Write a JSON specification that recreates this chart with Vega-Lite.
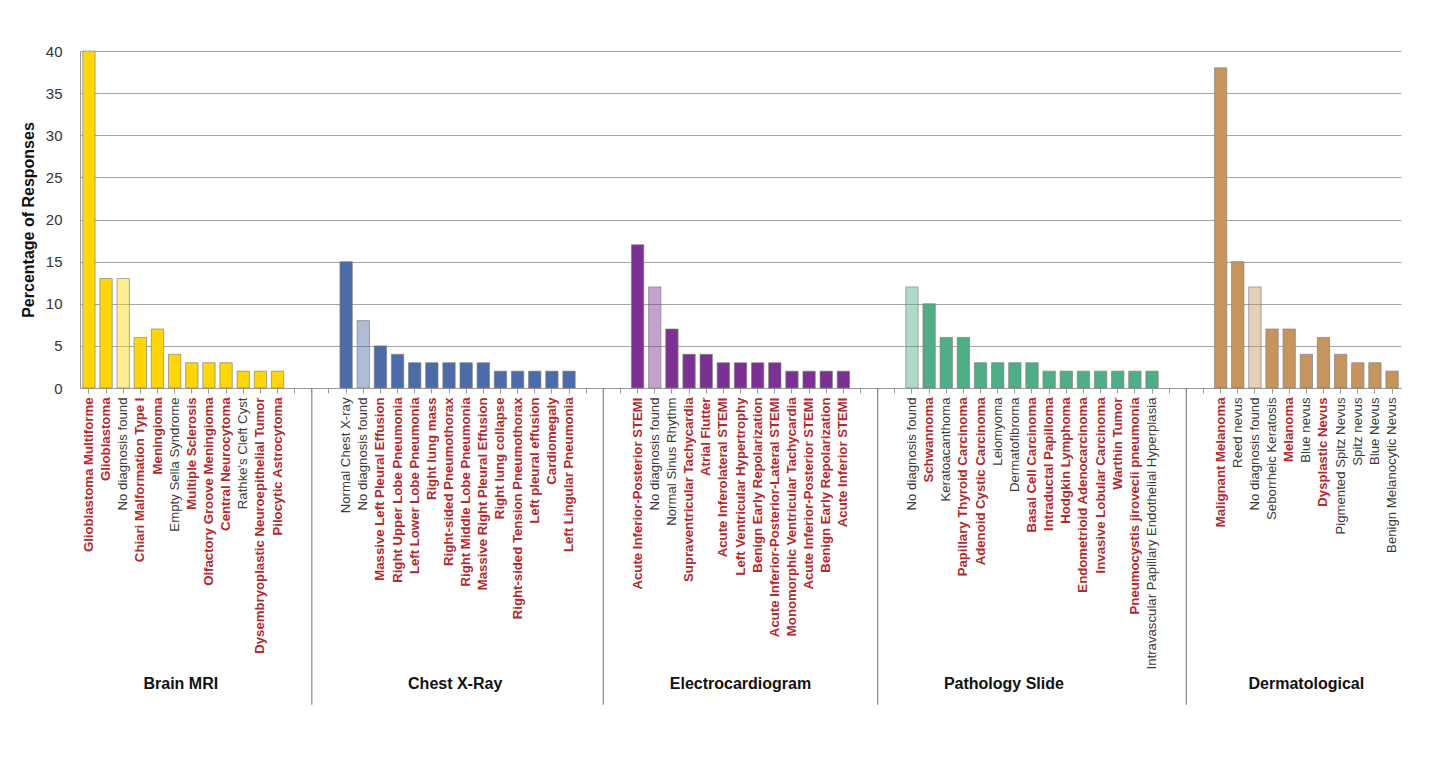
{
  "$schema": "https://vega.github.io/schema/vega-lite/v6.json",
  "padding": {"top": 44, "left": 20, "right": 5, "bottom": 5},
  "width": 1321,
  "height": 337,
  "data": {
    "values": [
      {"id": "B01", "group": "Brain MRI", "diagnosis": "Glioblastoma Multiforme", "correct": true, "pct": 40},
      {"id": "B02", "group": "Brain MRI", "diagnosis": "Glioblastoma", "correct": true, "pct": 13},
      {"id": "B03", "group": "Brain MRI", "diagnosis": "No diagnosis found", "correct": false, "pct": 13},
      {"id": "B04", "group": "Brain MRI", "diagnosis": "Chiari Malformation Type I", "correct": true, "pct": 6},
      {"id": "B05", "group": "Brain MRI", "diagnosis": "Meningioma", "correct": true, "pct": 7},
      {"id": "B06", "group": "Brain MRI", "diagnosis": "Empty Sella Syndrome", "correct": false, "pct": 4},
      {"id": "B07", "group": "Brain MRI", "diagnosis": "Multiple Sclerosis", "correct": true, "pct": 3},
      {"id": "B08", "group": "Brain MRI", "diagnosis": "Olfactory Groove Meningioma", "correct": true, "pct": 3},
      {"id": "B09", "group": "Brain MRI", "diagnosis": "Central Neurocytoma", "correct": true, "pct": 3},
      {"id": "B10", "group": "Brain MRI", "diagnosis": "Rathke's Cleft Cyst", "correct": false, "pct": 2},
      {"id": "B11", "group": "Brain MRI", "diagnosis": "Dysembryoplastic Neuroepithelial Tumor", "correct": true, "pct": 2},
      {"id": "B12", "group": "Brain MRI", "diagnosis": "Pilocytic Astrocytoma", "correct": true, "pct": 2},
      {"id": "S1a", "group": "", "diagnosis": "", "correct": false, "pct": 0},
      {"id": "S1b", "group": "", "diagnosis": "", "correct": false, "pct": 0},
      {"id": "S1c", "group": "", "diagnosis": "", "correct": false, "pct": 0},
      {"id": "C01", "group": "Chest X-Ray", "diagnosis": "Normal Chest X-ray", "correct": false, "pct": 15},
      {"id": "C02", "group": "Chest X-Ray", "diagnosis": "No diagnosis found", "correct": false, "pct": 8},
      {"id": "C03", "group": "Chest X-Ray", "diagnosis": "Massive Left Pleural Effusion", "correct": true, "pct": 5},
      {"id": "C04", "group": "Chest X-Ray", "diagnosis": "Right Upper Lobe Pneumonia", "correct": true, "pct": 4},
      {"id": "C05", "group": "Chest X-Ray", "diagnosis": "Left Lower Lobe Pneumonia", "correct": true, "pct": 3},
      {"id": "C06", "group": "Chest X-Ray", "diagnosis": "Right lung mass", "correct": true, "pct": 3},
      {"id": "C07", "group": "Chest X-Ray", "diagnosis": "Right-sided Pneumothorax", "correct": true, "pct": 3},
      {"id": "C08", "group": "Chest X-Ray", "diagnosis": "Right Middle Lobe Pneumonia", "correct": true, "pct": 3},
      {"id": "C09", "group": "Chest X-Ray", "diagnosis": "Massive Right Pleural Effusion", "correct": true, "pct": 3},
      {"id": "C10", "group": "Chest X-Ray", "diagnosis": "Right lung collapse", "correct": true, "pct": 2},
      {"id": "C11", "group": "Chest X-Ray", "diagnosis": "Right-sided Tension Pneumothorax", "correct": true, "pct": 2},
      {"id": "C12", "group": "Chest X-Ray", "diagnosis": "Left pleural effusion", "correct": true, "pct": 2},
      {"id": "C13", "group": "Chest X-Ray", "diagnosis": "Cardiomegaly", "correct": true, "pct": 2},
      {"id": "C14", "group": "Chest X-Ray", "diagnosis": "Left Lingular Pneumonia", "correct": true, "pct": 2},
      {"id": "S2a", "group": "", "diagnosis": "", "correct": false, "pct": 0},
      {"id": "S2b", "group": "", "diagnosis": "", "correct": false, "pct": 0},
      {"id": "S2c", "group": "", "diagnosis": "", "correct": false, "pct": 0},
      {"id": "E01", "group": "Electrocardiogram", "diagnosis": "Acute Inferior-Posterior STEMI", "correct": true, "pct": 17},
      {"id": "E02", "group": "Electrocardiogram", "diagnosis": "No diagnosis found", "correct": false, "pct": 12},
      {"id": "E03", "group": "Electrocardiogram", "diagnosis": "Normal Sinus Rhythm", "correct": false, "pct": 7},
      {"id": "E04", "group": "Electrocardiogram", "diagnosis": "Supraventricular Tachycardia", "correct": true, "pct": 4},
      {"id": "E05", "group": "Electrocardiogram", "diagnosis": "Atrial Flutter", "correct": true, "pct": 4},
      {"id": "E06", "group": "Electrocardiogram", "diagnosis": "Acute Inferolateral STEMI", "correct": true, "pct": 3},
      {"id": "E07", "group": "Electrocardiogram", "diagnosis": "Left Ventricular Hypertrophy", "correct": true, "pct": 3},
      {"id": "E08", "group": "Electrocardiogram", "diagnosis": "Benign Early Repolarization", "correct": true, "pct": 3},
      {"id": "E09", "group": "Electrocardiogram", "diagnosis": "Acute Inferior-Posterior-Lateral STEMI", "correct": true, "pct": 3},
      {"id": "E10", "group": "Electrocardiogram", "diagnosis": "Monomorphic Ventricular Tachycardia", "correct": true, "pct": 2},
      {"id": "E11", "group": "Electrocardiogram", "diagnosis": "Acute Inferior-Posterior STEMI", "correct": true, "pct": 2},
      {"id": "E12", "group": "Electrocardiogram", "diagnosis": "Benign Early Repolarization", "correct": true, "pct": 2},
      {"id": "E13", "group": "Electrocardiogram", "diagnosis": "Acute Inferior STEMI", "correct": true, "pct": 2},
      {"id": "S3a", "group": "", "diagnosis": "", "correct": false, "pct": 0},
      {"id": "S3b", "group": "", "diagnosis": "", "correct": false, "pct": 0},
      {"id": "S3c", "group": "", "diagnosis": "", "correct": false, "pct": 0},
      {"id": "P01", "group": "Pathology Slide", "diagnosis": "No diagnosis found", "correct": false, "pct": 12},
      {"id": "P02", "group": "Pathology Slide", "diagnosis": "Schwannoma", "correct": true, "pct": 10},
      {"id": "P03", "group": "Pathology Slide", "diagnosis": "Keratoacanthoma", "correct": false, "pct": 6},
      {"id": "P04", "group": "Pathology Slide", "diagnosis": "Papillary Thyroid Carcinoma", "correct": true, "pct": 6},
      {"id": "P05", "group": "Pathology Slide", "diagnosis": "Adenoid Cystic Carcinoma", "correct": true, "pct": 3},
      {"id": "P06", "group": "Pathology Slide", "diagnosis": "Leiomyoma", "correct": false, "pct": 3},
      {"id": "P07", "group": "Pathology Slide", "diagnosis": "Dermatofibroma", "correct": false, "pct": 3},
      {"id": "P08", "group": "Pathology Slide", "diagnosis": "Basal Cell Carcinoma", "correct": true, "pct": 3},
      {"id": "P09", "group": "Pathology Slide", "diagnosis": "Intraductal Papilloma", "correct": true, "pct": 2},
      {"id": "P10", "group": "Pathology Slide", "diagnosis": "Hodgkin Lymphoma", "correct": true, "pct": 2},
      {"id": "P11", "group": "Pathology Slide", "diagnosis": "Endometrioid Adenocarcinoma", "correct": true, "pct": 2},
      {"id": "P12", "group": "Pathology Slide", "diagnosis": "Invasive Lobular Carcinoma", "correct": true, "pct": 2},
      {"id": "P13", "group": "Pathology Slide", "diagnosis": "Warthin Tumor", "correct": true, "pct": 2},
      {"id": "P14", "group": "Pathology Slide", "diagnosis": "Pneumocystis jirovecii pneumonia", "correct": true, "pct": 2},
      {"id": "P15", "group": "Pathology Slide", "diagnosis": "Intravascular Papillary Endothelial Hyperplasia", "correct": false, "pct": 2},
      {"id": "S4a", "group": "", "diagnosis": "", "correct": false, "pct": 0},
      {"id": "S4b", "group": "", "diagnosis": "", "correct": false, "pct": 0},
      {"id": "S4c", "group": "", "diagnosis": "", "correct": false, "pct": 0},
      {"id": "D01", "group": "Dermatological", "diagnosis": "Malignant Melanoma", "correct": true, "pct": 38},
      {"id": "D02", "group": "Dermatological", "diagnosis": "Reed nevus", "correct": false, "pct": 15},
      {"id": "D03", "group": "Dermatological", "diagnosis": "No diagnosis found", "correct": false, "pct": 12},
      {"id": "D04", "group": "Dermatological", "diagnosis": "Seborrheic Keratosis", "correct": false, "pct": 7},
      {"id": "D05", "group": "Dermatological", "diagnosis": "Melanoma", "correct": true, "pct": 7},
      {"id": "D06", "group": "Dermatological", "diagnosis": "Blue nevus", "correct": false, "pct": 4},
      {"id": "D07", "group": "Dermatological", "diagnosis": "Dysplastic Nevus", "correct": true, "pct": 6},
      {"id": "D08", "group": "Dermatological", "diagnosis": "Pigmented Spitz Nevus", "correct": false, "pct": 4},
      {"id": "D09", "group": "Dermatological", "diagnosis": "Spitz nevus", "correct": false, "pct": 3},
      {"id": "D10", "group": "Dermatological", "diagnosis": "Blue Nevus", "correct": false, "pct": 3},
      {"id": "D11", "group": "Dermatological", "diagnosis": "Benign Melanocytic Nevus", "correct": false, "pct": 2}
    ]
  },
  "transform": [
    {"calculate": "datum.id + '|' + (datum.correct ? 'r' : 'k') + '|' + datum.diagnosis", "as": "slot"}
  ],
  "layer": [
    {
      "mark": {"type": "bar", "stroke": "#7a7a7a", "strokeWidth": 0.8},
      "encoding": {
        "x": {
          "field": "slot",
          "type": "nominal",
          "sort": null,
          "title": null,
          "scale": {"paddingInner": 0.28, "paddingOuter": 0.16},
          "axis": {
            "labelAngle": -90,
            "labelExpr": "split(datum.value, '|')[2]",
            "labelFont": "Liberation Sans",
            "labelFontSize": 13.2,
            "labelColor": {"condition": {"test": "split(datum.value, '|')[1] == 'r'", "value": "#b12a30"}, "value": "#3a3a3a"},
            "labelFontWeight": {"condition": {"test": "split(datum.value, '|')[1] == 'r'", "value": "bold"}, "value": "normal"},
            "labelPadding": 4,
            "labelLimit": 400,
            "labelOverlap": false,
            "tickSize": 5,
            "tickColor": "#9a9a9a",
            "domainColor": "#9a9a9a",
            "grid": false
          }
        },
        "y": {
          "field": "pct",
          "type": "quantitative",
          "title": "Percentage of Responses",
          "scale": {"domain": [0, 40], "nice": false},
          "axis": {
            "values": [0, 5, 10, 15, 20, 25, 30, 35, 40],
            "ticks": false,
            "labelPadding": 18,
            "labelFont": "Liberation Sans",
            "labelFontSize": 15,
            "labelColor": "#333333",
            "titleFont": "Liberation Sans",
            "titleFontSize": 16,
            "titleFontWeight": "bold",
            "titleColor": "#111111",
            "titlePadding": 9,
            "domainColor": "#9a9a9a",
            "gridColor": "#a5a5a5",
            "gridWidth": 1.2
          }
        },
        "color": {
          "field": "group",
          "type": "nominal",
          "legend": null,
          "scale": {
            "domain": ["Brain MRI", "Chest X-Ray", "Electrocardiogram", "Pathology Slide", "Dermatological", ""],
            "range": ["#ffd60a", "#4c6ba8", "#7b3192", "#4fae85", "#c6955f", "#ffffff"]
          }
        },
        "fillOpacity": {
          "condition": {"test": "datum.diagnosis == 'No diagnosis found'", "value": 0.45},
          "value": 1
        },
        "strokeOpacity": {
          "condition": {"test": "datum.group == ''", "value": 0},
          "value": 0.8
        }
      }
    },
    {
      "transform": [{"filter": "indexof(['S1b', 'S2b', 'S3b', 'S4b'], datum.id) >= 0"}],
      "mark": {"type": "rule", "color": "#8a8a8a", "strokeWidth": 1.2},
      "encoding": {
        "x": {"field": "slot", "type": "nominal", "sort": null, "title": null},
        "y": {"datum": 0, "type": "quantitative", "title": "Percentage of Responses"},
        "y2": {"datum": -37.6}
      }
    },
    {
      "transform": [{"filter": "indexof(['B06', 'C07', 'P06'], datum.id) >= 0"}],
      "mark": {"type": "text", "font": "Liberation Sans", "fontSize": 16, "fontWeight": "bold", "color": "#111111", "baseline": "middle", "align": "center"},
      "encoding": {
        "x": {"field": "slot", "type": "nominal", "sort": null, "title": null, "bandPosition": 1},
        "y": {"datum": -35.1, "type": "quantitative", "title": "Percentage of Responses"},
        "text": {"field": "group"}
      }
    },
    {
      "transform": [{"filter": "indexof(['E07', 'D06'], datum.id) >= 0"}],
      "mark": {"type": "text", "font": "Liberation Sans", "fontSize": 16, "fontWeight": "bold", "color": "#111111", "baseline": "middle", "align": "center"},
      "encoding": {
        "x": {"field": "slot", "type": "nominal", "sort": null, "title": null},
        "y": {"datum": -35.1, "type": "quantitative", "title": "Percentage of Responses"},
        "text": {"field": "group"}
      }
    }
  ],
  "config": {
    "view": {"stroke": null},
    "background": "#ffffff"
  }
}
